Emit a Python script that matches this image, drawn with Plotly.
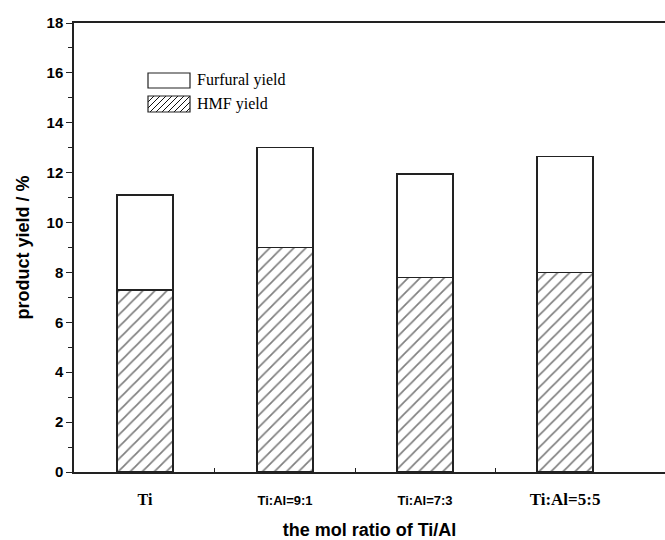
import plotly.graph_objects as go

categories = ["Ti", "Ti:Al=9:1", "Ti:Al=7:3", "Ti:Al=5:5"]
tick_text = [
    "<span style='font-family:Liberation Serif;font-size:16px'><b>Ti</b></span>",
    "<b>Ti:Al=9:1</b>",
    "<b>Ti:Al=7:3</b>",
    "<span style='font-family:Liberation Serif;font-size:17px'><b>Ti:Al=5:5</b></span>",
]
hmf_yield = [7.3, 9.0, 7.8, 8.0]
furfural_yield = [3.8, 4.0, 4.15, 4.65]
y_ticks = [0, 2, 4, 6, 8, 10, 12, 14, 16, 18]

xpos = [1, 2, 3, 4]

W, H = 665, 540
L, R, T, B = 74, 0, 23, 68

fig = go.Figure()
fig.add_trace(go.Bar(
    x=xpos, y=hmf_yield, name="HMF yield", width=0.4,
    marker=dict(color="white", line=dict(color="#222", width=1.4),
                pattern=dict(shape="/", fgcolor="black", bgcolor="white",
                             size=8.5, solidity=0.2)),
    showlegend=False,
))
fig.add_trace(go.Bar(
    x=xpos, y=furfural_yield, name="Furfural yield", width=0.4,
    marker=dict(color="white", line=dict(color="#222", width=1.4)),
    showlegend=False,
))

# manual legend (pixel -> paper helpers)
pw, ph = W - L - R, H - T - B
def px(x):
    return (x - L) / pw
def py(y):
    return (H - B - y) / ph

shapes = []
shapes.append(dict(type="rect", xref="paper", yref="paper",
                   x0=px(148), x1=px(190), y0=py(88), y1=py(73),
                   line=dict(color="#222", width=1.2), fillcolor="white"))
bx0, bx1, by0, by1 = 148, 190, 96, 112
hgt = by1 - by0
step = 6
k = bx0 - hgt
while k < bx1:
    xa, ya, xb, yb = k, by1, k + hgt, by0
    if xa < bx0:
        ya = by1 - (bx0 - xa); xa = bx0
    if xb > bx1:
        yb = by0 + (xb - bx1); xb = bx1
    if xb > xa:
        shapes.append(dict(type="line", xref="paper", yref="paper",
                           x0=px(xa), y0=py(ya), x1=px(xb), y1=py(yb),
                           line=dict(color="#111", width=1)))
    k += step
shapes.append(dict(type="rect", xref="paper", yref="paper",
                   x0=px(bx0), x1=px(bx1), y0=py(by1), y1=py(by0),
                   line=dict(color="#222", width=1.2)))

annotations = [
    dict(text="Furfural yield", xref="paper", yref="paper", x=px(195), y=py(80),
         xanchor="left", yanchor="middle", showarrow=False,
         font=dict(family="Liberation Serif", size=16, color="black")),
    dict(text="HMF yield", xref="paper", yref="paper", x=px(195), y=py(104),
         xanchor="left", yanchor="middle", showarrow=False,
         font=dict(family="Liberation Serif", size=16, color="black")),
]

fig.update_layout(
    width=W, height=H, barmode="stack",
    margin=dict(l=L, r=R, t=T, b=B, autoexpand=False),
    plot_bgcolor="white", paper_bgcolor="white",
    shapes=shapes, annotations=annotations,
    font=dict(family="Arial, Liberation Sans", color="black"),
    xaxis=dict(range=[0.493, 4.714], tickvals=xpos, ticktext=tick_text,
               ticks="", showgrid=False, zeroline=False, automargin=False,
               showline=True, linecolor="#222", linewidth=1.5, mirror=True,
               ticklabelstandoff=16,
               tickfont=dict(family="Arial, Liberation Sans", size=13, color="black"),
               minor=dict(tickvals=[1.5, 2.5, 3.5], ticks="inside", ticklen=4,
                          tickcolor="#222", tickwidth=1),
               title=dict(text="<b>the mol ratio of Ti/Al</b>", standoff=16,
                          font=dict(family="Arial, Liberation Sans", size=18))),
    yaxis=dict(range=[0, 18], tickvals=y_ticks, ticks="outside", ticklen=6,
               tickwidth=1.3, tickcolor="#222", showgrid=False, zeroline=False,
               automargin=False,
               showline=True, linecolor="#222", linewidth=1.5,
               tickfont=dict(family="Arial, Liberation Sans", size=15,
                             color="black", weight="bold"),
               minor=dict(dtick=1, ticks="outside", ticklen=4, tickcolor="#222",
                          tickwidth=1),
               title=dict(text="<b>product yield / %</b>", standoff=12,
                          font=dict(family="Arial, Liberation Sans", size=18))),
)

fig.write_html("out.html", config={"displayModeBar": False},
               post_script="document.body.style.margin='0';document.body.style.padding='0';")
